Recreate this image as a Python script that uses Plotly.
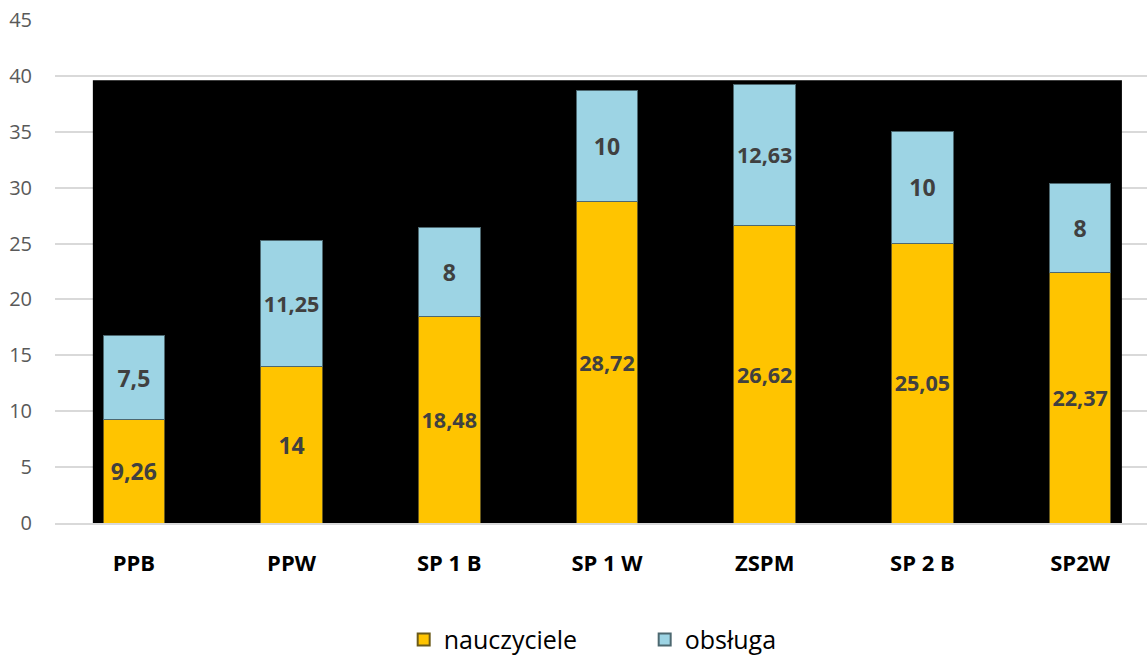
import plotly.graph_objects as go

categories = ["PPB", "PPW", "SP 1 B", "SP 1 W", "ZSPM", "SP 2 B", "SP2W"]
nauczyciele = [9.26, 14, 18.48, 28.72, 26.62, 25.05, 22.37]
obsluga = [7.5, 11.25, 8, 10, 12.63, 10, 8]
y_ticks = [0, 5, 10, 15, 20, 25, 30, 35, 40, 45]


def fmt(v):
    return str(v).replace(".", ",")


label_font = dict(family="Open Sans, sans-serif", size=23, color="#404040", weight="bold")

fig = go.Figure()
fig.add_trace(go.Bar(
    x=categories, y=nauczyciele, name="nauczyciele",
    text=[fmt(v) for v in nauczyciele],
    textposition="inside", insidetextanchor="middle",
    textfont=label_font, textangle=0,
    marker=dict(color="#FFC400", line=dict(color="#6b5a1a", width=1)),
    width=0.39,
))
fig.add_trace(go.Bar(
    x=categories, y=obsluga, name="obsługa",
    text=[fmt(v) for v in obsluga],
    textposition="inside", insidetextanchor="middle",
    textfont=label_font, textangle=0,
    marker=dict(color="#9DD4E4", line=dict(color="#4d6870", width=1)),
    width=0.39,
))

# black backdrop behind the bars (covers the gridlines)
fig.add_shape(type="rect", xref="x", yref="y", x0=-0.26, x1=6.265, y0=0, y1=39.6,
              fillcolor="black", line_width=0, layer="between")

fig.update_layout(
    barmode="stack",
    width=1147, height=659,
    margin=dict(l=55, r=0, t=20, b=136, autoexpand=False),
    plot_bgcolor="white", paper_bgcolor="white",
    uniformtext=dict(mode=False),
    xaxis=dict(
        range=[-0.5, 6.424],
        showgrid=False, showline=True, linecolor="#d9d9d9", linewidth=2,
        tickfont=dict(family="Open Sans, sans-serif", size=22, color="black", weight="bold"),
        ticks="", ticklabelstandoff=20,
    ),
    yaxis=dict(
        range=[0, 45], tickvals=y_ticks,
        showgrid=True, gridcolor="#d9d9d9", gridwidth=2,
        zeroline=False,
        tickfont=dict(family="Open Sans, sans-serif", size=20, color="#595959"),
        ticks="", ticklabelstandoff=22,
    ),
    legend=dict(
        orientation="h", x=0.54, xanchor="center", y=-0.232, yanchor="middle",
        font=dict(family="Open Sans, sans-serif", size=25, color="black"),
        traceorder="normal", entrywidth=196,
        itemsizing="constant",
    ),
    showlegend=True,
)

fig.write_html("out.html", config={"displayModeBar": False},
               post_script="document.body.style.margin='0';")
